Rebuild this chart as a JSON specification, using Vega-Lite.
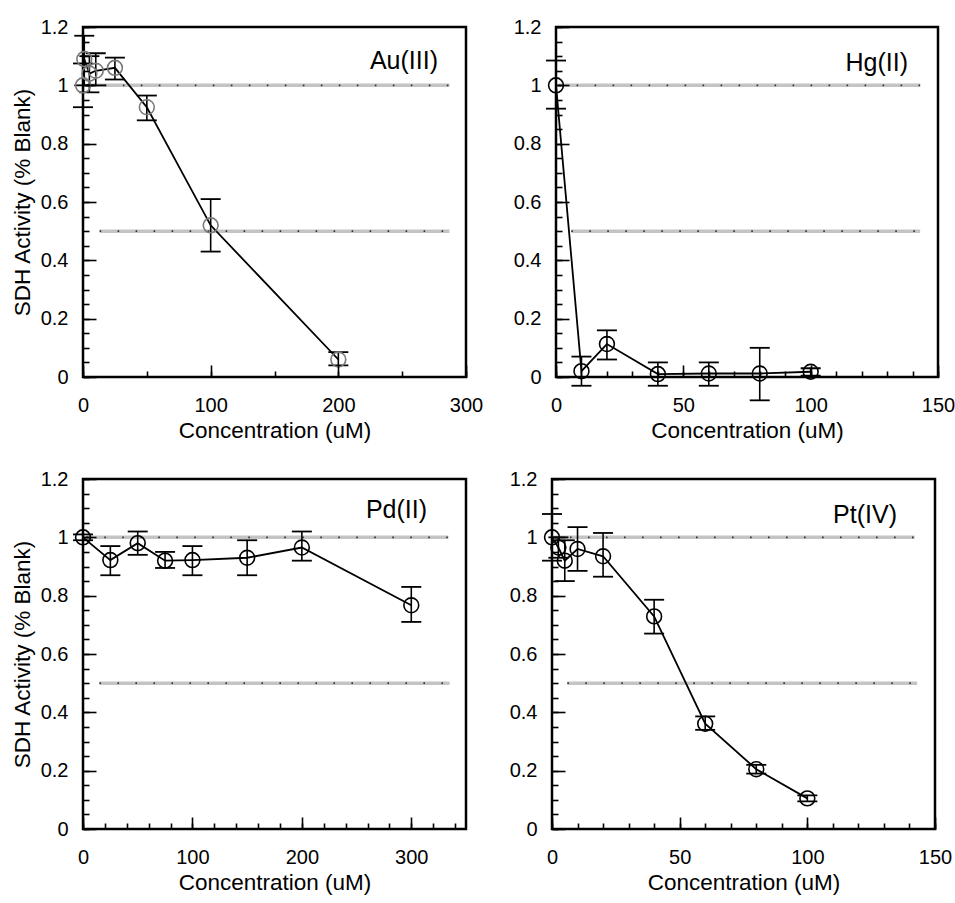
{
  "$schema": "https://vega.github.io/schema/vega-lite/v6.json",
  "padding": {"left": 9, "top": 15, "right": 0, "bottom": 2},
  "background": "white",
  "datasets": {
    "pts": [
      {"metal": "Au(III)", "conc": 0, "act": 1.0, "lo": 0.925, "hi": 1.075},
      {"metal": "Au(III)", "conc": 1, "act": 1.09, "lo": 1.0, "hi": 1.17},
      {"metal": "Au(III)", "conc": 5, "act": 1.04, "lo": 0.976, "hi": 1.1},
      {"metal": "Au(III)", "conc": 10, "act": 1.05, "lo": 1.0, "hi": 1.11},
      {"metal": "Au(III)", "conc": 25, "act": 1.06, "lo": 1.02, "hi": 1.095},
      {"metal": "Au(III)", "conc": 50, "act": 0.925, "lo": 0.88, "hi": 0.965},
      {"metal": "Au(III)", "conc": 100, "act": 0.52, "lo": 0.43, "hi": 0.61},
      {"metal": "Au(III)", "conc": 200, "act": 0.06, "lo": 0.04, "hi": 0.085},
      {"metal": "Hg(II)", "conc": 0, "act": 1.0, "lo": 0.92, "hi": 1.085},
      {"metal": "Hg(II)", "conc": 10, "act": 0.02, "lo": -0.03, "hi": 0.07},
      {"metal": "Hg(II)", "conc": 20, "act": 0.113, "lo": 0.06, "hi": 0.16},
      {"metal": "Hg(II)", "conc": 40, "act": 0.01, "lo": -0.03, "hi": 0.05},
      {"metal": "Hg(II)", "conc": 60, "act": 0.012, "lo": -0.03, "hi": 0.05},
      {"metal": "Hg(II)", "conc": 80, "act": 0.012, "lo": -0.08, "hi": 0.1},
      {"metal": "Hg(II)", "conc": 100, "act": 0.018, "lo": 0.005, "hi": 0.03},
      {"metal": "Pd(II)", "conc": 0, "act": 1.0, "lo": 0.99, "hi": 1.01},
      {"metal": "Pd(II)", "conc": 25, "act": 0.922, "lo": 0.87, "hi": 0.97},
      {"metal": "Pd(II)", "conc": 50, "act": 0.98, "lo": 0.94, "hi": 1.02},
      {"metal": "Pd(II)", "conc": 75, "act": 0.92, "lo": 0.895, "hi": 0.95},
      {"metal": "Pd(II)", "conc": 100, "act": 0.922, "lo": 0.87, "hi": 0.97},
      {"metal": "Pd(II)", "conc": 150, "act": 0.93, "lo": 0.87, "hi": 0.99},
      {"metal": "Pd(II)", "conc": 200, "act": 0.965, "lo": 0.92, "hi": 1.02},
      {"metal": "Pd(II)", "conc": 300, "act": 0.767, "lo": 0.71, "hi": 0.83},
      {"metal": "Pt(IV)", "conc": 0, "act": 1.0, "lo": 0.92, "hi": 1.08},
      {"metal": "Pt(IV)", "conc": 2.5, "act": 0.965, "lo": 0.93, "hi": 1.0},
      {"metal": "Pt(IV)", "conc": 5, "act": 0.92, "lo": 0.85, "hi": 0.99},
      {"metal": "Pt(IV)", "conc": 10, "act": 0.96, "lo": 0.885, "hi": 1.035},
      {"metal": "Pt(IV)", "conc": 20, "act": 0.935, "lo": 0.865, "hi": 1.015},
      {"metal": "Pt(IV)", "conc": 40, "act": 0.729, "lo": 0.67, "hi": 0.786},
      {"metal": "Pt(IV)", "conc": 60, "act": 0.361, "lo": 0.34, "hi": 0.386},
      {"metal": "Pt(IV)", "conc": 80, "act": 0.205, "lo": 0.19, "hi": 0.22},
      {"metal": "Pt(IV)", "conc": 100, "act": 0.105, "lo": 0.095, "hi": 0.115}
    ],
    "refs": [
      {"metal": "Au(III)", "level": 1.0, "from": 3, "to": 287},
      {"metal": "Au(III)", "level": 0.5, "from": 13, "to": 287},
      {"metal": "Hg(II)", "level": 1.0, "from": 1, "to": 143},
      {"metal": "Hg(II)", "level": 0.5, "from": 6, "to": 143},
      {"metal": "Pd(II)", "level": 1.0, "from": 3, "to": 334},
      {"metal": "Pd(II)", "level": 0.5, "from": 15, "to": 335},
      {"metal": "Pt(IV)", "level": 1.0, "from": 0, "to": 142},
      {"metal": "Pt(IV)", "level": 0.5, "from": 6, "to": 143}
    ]
  },
  "vconcat": [
    {
      "hconcat": [
        {
          "width": 383, "height": 350,
          "title": {"text": "Au(III)", "anchor": "end", "frame": "group", "offset": -41, "dy": 36, "dx": -28, "baseline": "alphabetic", "fontSize": 25, "fontWeight": "normal", "font": "Liberation Sans", "color": "black"},
          "resolve": {"axis": {"x": "independent", "y": "independent"}},
          "layer": [
            {"data": {"name": "refs"}, "transform": [{"filter": "datum.metal === 'Au(III)'"}],
             "mark": {"type": "rule", "color": "#c4c4c4", "strokeWidth": 3.5},
             "encoding": {
               "x": {"field": "from", "type": "quantitative", "scale": {"domain": [0, 300], "nice": false},
                     "axis": {"orient": "bottom", "zindex": 2, "title": "Concentration (uM)", "values": [0, 100, 200, 300], "format": "d", "ticks": true, "offset": -12, "tickSize": 12, "labelPadding": 18, "titlePadding": 4}},
               "x2": {"field": "to"},
               "y": {"field": "level", "type": "quantitative", "scale": {"domain": [0, 1.2], "nice": false},
                     "axis": {"orient": "left", "zindex": 2, "title": "SDH Activity (% Blank)", "values": [0, 0.2, 0.4, 0.6, 0.8, 1, 1.2], "format": "~g", "ticks": true, "offset": -13, "tickSize": 13, "labelPadding": 15, "titlePadding": 6}}
             }},
            {"data": {"name": "refs"}, "transform": [{"filter": "datum.metal === 'Au(III)'"}],
             "mark": {"type": "rule", "color": "#333333", "strokeWidth": 1.6, "strokeDash": [1.6, 16.4]},
             "encoding": {
               "x": {"field": "from", "type": "quantitative", "scale": {"domain": [0, 300], "nice": false},
                     "axis": {"orient": "bottom", "zindex": 2, "title": null, "values": [0, 50, 100, 150, 200, 250, 300], "ticks": true, "offset": -6, "tickSize": 6, "labels": false}},
               "x2": {"field": "to"},
               "y": {"field": "level", "type": "quantitative", "scale": {"domain": [0, 1.2], "nice": false},
                     "axis": {"orient": "left", "zindex": 2, "title": null, "values": [0, 0.05, 0.1, 0.15, 0.2, 0.25, 0.3, 0.35, 0.4, 0.45, 0.5, 0.55, 0.6, 0.65, 0.7, 0.75, 0.8, 0.85, 0.9, 0.95, 1, 1.05, 1.1, 1.15, 1.2], "ticks": true, "offset": -6, "tickSize": 6, "labels": false}}
             }},
            {"data": {"name": "pts"}, "transform": [{"filter": "datum.metal === 'Au(III)'"}],
             "mark": {"type": "line", "color": "black", "strokeWidth": 1.8},
             "encoding": {
               "x": {"field": "conc", "type": "quantitative", "scale": {"domain": [0, 300], "nice": false}, "axis": null},
               "y": {"field": "act", "type": "quantitative", "scale": {"domain": [0, 1.2], "nice": false}, "axis": null}
             }},
            {"data": {"name": "pts"}, "transform": [{"filter": "datum.metal === 'Au(III)'"}],
             "mark": {"type": "rule", "color": "black", "strokeWidth": 1.6},
             "encoding": {
               "x": {"field": "conc", "type": "quantitative", "scale": {"domain": [0, 300], "nice": false}, "axis": null},
               "y": {"field": "lo", "type": "quantitative", "scale": {"domain": [0, 1.2], "nice": false}, "axis": null},
               "y2": {"field": "hi"}
             }},
            {"data": {"name": "pts"}, "transform": [{"filter": "datum.metal === 'Au(III)'"}],
             "mark": {"type": "tick", "orient": "horizontal", "size": 20, "thickness": 1.8, "color": "black", "opacity": 1},
             "encoding": {
               "x": {"field": "conc", "type": "quantitative", "scale": {"domain": [0, 300], "nice": false}, "axis": null},
               "y": {"field": "lo", "type": "quantitative", "scale": {"domain": [0, 1.2], "nice": false}, "axis": null}
             }},
            {"data": {"name": "pts"}, "transform": [{"filter": "datum.metal === 'Au(III)'"}],
             "mark": {"type": "tick", "orient": "horizontal", "size": 20, "thickness": 1.8, "color": "black", "opacity": 1},
             "encoding": {
               "x": {"field": "conc", "type": "quantitative", "scale": {"domain": [0, 300], "nice": false}, "axis": null},
               "y": {"field": "hi", "type": "quantitative", "scale": {"domain": [0, 1.2], "nice": false}, "axis": null}
             }},
            {"data": {"name": "pts"}, "transform": [{"filter": "datum.metal === 'Au(III)'"}],
             "mark": {"type": "point", "shape": "circle", "filled": false, "size": 220, "strokeWidth": 1.6, "color": "#7a7a7a", "opacity": 1},
             "encoding": {
               "x": {"field": "conc", "type": "quantitative", "scale": {"domain": [0, 300], "nice": false}, "axis": null},
               "y": {"field": "act", "type": "quantitative", "scale": {"domain": [0, 1.2], "nice": false}, "axis": null}
             }}
          ]
        },
        {
          "width": 382, "height": 350,
          "title": {"text": "Hg(II)", "anchor": "end", "frame": "group", "offset": -43, "dy": 36, "dx": -30, "baseline": "alphabetic", "fontSize": 25, "fontWeight": "normal", "font": "Liberation Sans", "color": "black"},
          "resolve": {"axis": {"x": "independent", "y": "independent"}},
          "layer": [
            {"data": {"name": "refs"}, "transform": [{"filter": "datum.metal === 'Hg(II)'"}],
             "mark": {"type": "rule", "color": "#c4c4c4", "strokeWidth": 3.5},
             "encoding": {
               "x": {"field": "from", "type": "quantitative", "scale": {"domain": [0, 150], "nice": false},
                     "axis": {"orient": "bottom", "zindex": 2, "title": "Concentration (uM)", "values": [0, 50, 100, 150], "format": "d", "ticks": true, "offset": -12, "tickSize": 12, "labelPadding": 18, "titlePadding": 4}},
               "x2": {"field": "to"},
               "y": {"field": "level", "type": "quantitative", "scale": {"domain": [0, 1.2], "nice": false},
                     "axis": {"orient": "left", "zindex": 2, "title": null, "values": [0, 0.2, 0.4, 0.6, 0.8, 1, 1.2], "format": "~g", "ticks": true, "offset": -13, "tickSize": 13, "labelPadding": 15}}
             }},
            {"data": {"name": "refs"}, "transform": [{"filter": "datum.metal === 'Hg(II)'"}],
             "mark": {"type": "rule", "color": "#333333", "strokeWidth": 1.6, "strokeDash": [1.6, 16.4]},
             "encoding": {
               "x": {"field": "from", "type": "quantitative", "scale": {"domain": [0, 150], "nice": false},
                     "axis": {"orient": "bottom", "zindex": 2, "title": null, "values": [0, 10, 20, 30, 40, 50, 60, 70, 80, 90, 100, 110, 120, 130, 140, 150], "ticks": true, "offset": -6, "tickSize": 6, "labels": false}},
               "x2": {"field": "to"},
               "y": {"field": "level", "type": "quantitative", "scale": {"domain": [0, 1.2], "nice": false},
                     "axis": {"orient": "left", "zindex": 2, "title": null, "values": [0, 0.05, 0.1, 0.15, 0.2, 0.25, 0.3, 0.35, 0.4, 0.45, 0.5, 0.55, 0.6, 0.65, 0.7, 0.75, 0.8, 0.85, 0.9, 0.95, 1, 1.05, 1.1, 1.15, 1.2], "ticks": true, "offset": -6, "tickSize": 6, "labels": false}}
             }},
            {"data": {"name": "pts"}, "transform": [{"filter": "datum.metal === 'Hg(II)'"}],
             "mark": {"type": "line", "color": "black", "strokeWidth": 1.8},
             "encoding": {
               "x": {"field": "conc", "type": "quantitative", "scale": {"domain": [0, 150], "nice": false}, "axis": null},
               "y": {"field": "act", "type": "quantitative", "scale": {"domain": [0, 1.2], "nice": false}, "axis": null}
             }},
            {"data": {"name": "pts"}, "transform": [{"filter": "datum.metal === 'Hg(II)'"}],
             "mark": {"type": "rule", "color": "black", "strokeWidth": 1.6},
             "encoding": {
               "x": {"field": "conc", "type": "quantitative", "scale": {"domain": [0, 150], "nice": false}, "axis": null},
               "y": {"field": "lo", "type": "quantitative", "scale": {"domain": [0, 1.2], "nice": false}, "axis": null},
               "y2": {"field": "hi"}
             }},
            {"data": {"name": "pts"}, "transform": [{"filter": "datum.metal === 'Hg(II)'"}],
             "mark": {"type": "tick", "orient": "horizontal", "size": 20, "thickness": 1.8, "color": "black", "opacity": 1},
             "encoding": {
               "x": {"field": "conc", "type": "quantitative", "scale": {"domain": [0, 150], "nice": false}, "axis": null},
               "y": {"field": "lo", "type": "quantitative", "scale": {"domain": [0, 1.2], "nice": false}, "axis": null}
             }},
            {"data": {"name": "pts"}, "transform": [{"filter": "datum.metal === 'Hg(II)'"}],
             "mark": {"type": "tick", "orient": "horizontal", "size": 20, "thickness": 1.8, "color": "black", "opacity": 1},
             "encoding": {
               "x": {"field": "conc", "type": "quantitative", "scale": {"domain": [0, 150], "nice": false}, "axis": null},
               "y": {"field": "hi", "type": "quantitative", "scale": {"domain": [0, 1.2], "nice": false}, "axis": null}
             }},
            {"data": {"name": "pts"}, "transform": [{"filter": "datum.metal === 'Hg(II)'"}],
             "mark": {"type": "point", "shape": "circle", "filled": false, "size": 220, "strokeWidth": 1.6, "color": "black", "opacity": 1},
             "encoding": {
               "x": {"field": "conc", "type": "quantitative", "scale": {"domain": [0, 150], "nice": false}, "axis": null},
               "y": {"field": "act", "type": "quantitative", "scale": {"domain": [0, 1.2], "nice": false}, "axis": null}
             }}
          ]
        }
      ],
      "spacing": 27
    },
    {
      "hconcat": [
        {
          "width": 383, "height": 350,
          "title": {"text": "Pd(II)", "anchor": "end", "frame": "group", "offset": -38, "dy": 36, "dx": -39, "baseline": "alphabetic", "fontSize": 25, "fontWeight": "normal", "font": "Liberation Sans", "color": "black"},
          "resolve": {"axis": {"x": "independent", "y": "independent"}},
          "layer": [
            {"data": {"name": "refs"}, "transform": [{"filter": "datum.metal === 'Pd(II)'"}],
             "mark": {"type": "rule", "color": "#c4c4c4", "strokeWidth": 3.5},
             "encoding": {
               "x": {"field": "from", "type": "quantitative", "scale": {"domain": [0, 350], "nice": false},
                     "axis": {"orient": "bottom", "zindex": 2, "title": "Concentration (uM)", "values": [0, 100, 200, 300], "format": "d", "ticks": true, "offset": -12, "tickSize": 12, "labelPadding": 18, "titlePadding": 4}},
               "x2": {"field": "to"},
               "y": {"field": "level", "type": "quantitative", "scale": {"domain": [0, 1.2], "nice": false},
                     "axis": {"orient": "left", "zindex": 2, "title": "SDH Activity (% Blank)", "values": [0, 0.2, 0.4, 0.6, 0.8, 1, 1.2], "format": "~g", "ticks": true, "offset": -13, "tickSize": 13, "labelPadding": 15, "titlePadding": 6}}
             }},
            {"data": {"name": "refs"}, "transform": [{"filter": "datum.metal === 'Pd(II)'"}],
             "mark": {"type": "rule", "color": "#333333", "strokeWidth": 1.6, "strokeDash": [1.6, 16.4]},
             "encoding": {
               "x": {"field": "from", "type": "quantitative", "scale": {"domain": [0, 350], "nice": false},
                     "axis": {"orient": "bottom", "zindex": 2, "title": null, "values": [0, 20, 40, 60, 80, 100, 120, 140, 160, 180, 200, 220, 240, 260, 280, 300, 320, 340], "ticks": true, "offset": -6, "tickSize": 6, "labels": false}},
               "x2": {"field": "to"},
               "y": {"field": "level", "type": "quantitative", "scale": {"domain": [0, 1.2], "nice": false},
                     "axis": {"orient": "left", "zindex": 2, "title": null, "values": [0, 0.05, 0.1, 0.15, 0.2, 0.25, 0.3, 0.35, 0.4, 0.45, 0.5, 0.55, 0.6, 0.65, 0.7, 0.75, 0.8, 0.85, 0.9, 0.95, 1, 1.05, 1.1, 1.15, 1.2], "ticks": true, "offset": -6, "tickSize": 6, "labels": false}}
             }},
            {"data": {"name": "pts"}, "transform": [{"filter": "datum.metal === 'Pd(II)'"}],
             "mark": {"type": "line", "color": "black", "strokeWidth": 1.8},
             "encoding": {
               "x": {"field": "conc", "type": "quantitative", "scale": {"domain": [0, 350], "nice": false}, "axis": null},
               "y": {"field": "act", "type": "quantitative", "scale": {"domain": [0, 1.2], "nice": false}, "axis": null}
             }},
            {"data": {"name": "pts"}, "transform": [{"filter": "datum.metal === 'Pd(II)'"}],
             "mark": {"type": "rule", "color": "black", "strokeWidth": 1.6},
             "encoding": {
               "x": {"field": "conc", "type": "quantitative", "scale": {"domain": [0, 350], "nice": false}, "axis": null},
               "y": {"field": "lo", "type": "quantitative", "scale": {"domain": [0, 1.2], "nice": false}, "axis": null},
               "y2": {"field": "hi"}
             }},
            {"data": {"name": "pts"}, "transform": [{"filter": "datum.metal === 'Pd(II)'"}],
             "mark": {"type": "tick", "orient": "horizontal", "size": 20, "thickness": 1.8, "color": "black", "opacity": 1},
             "encoding": {
               "x": {"field": "conc", "type": "quantitative", "scale": {"domain": [0, 350], "nice": false}, "axis": null},
               "y": {"field": "lo", "type": "quantitative", "scale": {"domain": [0, 1.2], "nice": false}, "axis": null}
             }},
            {"data": {"name": "pts"}, "transform": [{"filter": "datum.metal === 'Pd(II)'"}],
             "mark": {"type": "tick", "orient": "horizontal", "size": 20, "thickness": 1.8, "color": "black", "opacity": 1},
             "encoding": {
               "x": {"field": "conc", "type": "quantitative", "scale": {"domain": [0, 350], "nice": false}, "axis": null},
               "y": {"field": "hi", "type": "quantitative", "scale": {"domain": [0, 1.2], "nice": false}, "axis": null}
             }},
            {"data": {"name": "pts"}, "transform": [{"filter": "datum.metal === 'Pd(II)'"}],
             "mark": {"type": "point", "shape": "circle", "filled": false, "size": 220, "strokeWidth": 1.6, "color": "black", "opacity": 1},
             "encoding": {
               "x": {"field": "conc", "type": "quantitative", "scale": {"domain": [0, 350], "nice": false}, "axis": null},
               "y": {"field": "act", "type": "quantitative", "scale": {"domain": [0, 1.2], "nice": false}, "axis": null}
             }}
          ]
        },
        {
          "width": 383, "height": 350,
          "title": {"text": "Pt(IV)", "anchor": "end", "frame": "group", "offset": -43, "dy": 36, "dx": -38, "baseline": "alphabetic", "fontSize": 25, "fontWeight": "normal", "font": "Liberation Sans", "color": "black"},
          "resolve": {"axis": {"x": "independent", "y": "independent"}},
          "layer": [
            {"data": {"name": "refs"}, "transform": [{"filter": "datum.metal === 'Pt(IV)'"}],
             "mark": {"type": "rule", "color": "#c4c4c4", "strokeWidth": 3.5},
             "encoding": {
               "x": {"field": "from", "type": "quantitative", "scale": {"domain": [0, 150], "nice": false},
                     "axis": {"orient": "bottom", "zindex": 2, "title": "Concentration (uM)", "values": [0, 50, 100, 150], "format": "d", "ticks": true, "offset": -12, "tickSize": 12, "labelPadding": 18, "titlePadding": 4}},
               "x2": {"field": "to"},
               "y": {"field": "level", "type": "quantitative", "scale": {"domain": [0, 1.2], "nice": false},
                     "axis": {"orient": "left", "zindex": 2, "title": null, "values": [0, 0.2, 0.4, 0.6, 0.8, 1, 1.2], "format": "~g", "ticks": true, "offset": -13, "tickSize": 13, "labelPadding": 15}}
             }},
            {"data": {"name": "refs"}, "transform": [{"filter": "datum.metal === 'Pt(IV)'"}],
             "mark": {"type": "rule", "color": "#333333", "strokeWidth": 1.6, "strokeDash": [1.6, 16.4]},
             "encoding": {
               "x": {"field": "from", "type": "quantitative", "scale": {"domain": [0, 150], "nice": false},
                     "axis": {"orient": "bottom", "zindex": 2, "title": null, "values": [0, 10, 20, 30, 40, 50, 60, 70, 80, 90, 100, 110, 120, 130, 140, 150], "ticks": true, "offset": -6, "tickSize": 6, "labels": false}},
               "x2": {"field": "to"},
               "y": {"field": "level", "type": "quantitative", "scale": {"domain": [0, 1.2], "nice": false},
                     "axis": {"orient": "left", "zindex": 2, "title": null, "values": [0, 0.05, 0.1, 0.15, 0.2, 0.25, 0.3, 0.35, 0.4, 0.45, 0.5, 0.55, 0.6, 0.65, 0.7, 0.75, 0.8, 0.85, 0.9, 0.95, 1, 1.05, 1.1, 1.15, 1.2], "ticks": true, "offset": -6, "tickSize": 6, "labels": false}}
             }},
            {"data": {"name": "pts"}, "transform": [{"filter": "datum.metal === 'Pt(IV)'"}],
             "mark": {"type": "line", "color": "black", "strokeWidth": 1.8},
             "encoding": {
               "x": {"field": "conc", "type": "quantitative", "scale": {"domain": [0, 150], "nice": false}, "axis": null},
               "y": {"field": "act", "type": "quantitative", "scale": {"domain": [0, 1.2], "nice": false}, "axis": null}
             }},
            {"data": {"name": "pts"}, "transform": [{"filter": "datum.metal === 'Pt(IV)'"}],
             "mark": {"type": "rule", "color": "black", "strokeWidth": 1.6},
             "encoding": {
               "x": {"field": "conc", "type": "quantitative", "scale": {"domain": [0, 150], "nice": false}, "axis": null},
               "y": {"field": "lo", "type": "quantitative", "scale": {"domain": [0, 1.2], "nice": false}, "axis": null},
               "y2": {"field": "hi"}
             }},
            {"data": {"name": "pts"}, "transform": [{"filter": "datum.metal === 'Pt(IV)'"}],
             "mark": {"type": "tick", "orient": "horizontal", "size": 20, "thickness": 1.8, "color": "black", "opacity": 1},
             "encoding": {
               "x": {"field": "conc", "type": "quantitative", "scale": {"domain": [0, 150], "nice": false}, "axis": null},
               "y": {"field": "lo", "type": "quantitative", "scale": {"domain": [0, 1.2], "nice": false}, "axis": null}
             }},
            {"data": {"name": "pts"}, "transform": [{"filter": "datum.metal === 'Pt(IV)'"}],
             "mark": {"type": "tick", "orient": "horizontal", "size": 20, "thickness": 1.8, "color": "black", "opacity": 1},
             "encoding": {
               "x": {"field": "conc", "type": "quantitative", "scale": {"domain": [0, 150], "nice": false}, "axis": null},
               "y": {"field": "hi", "type": "quantitative", "scale": {"domain": [0, 1.2], "nice": false}, "axis": null}
             }},
            {"data": {"name": "pts"}, "transform": [{"filter": "datum.metal === 'Pt(IV)'"}],
             "mark": {"type": "point", "shape": "circle", "filled": false, "size": 220, "strokeWidth": 1.6, "color": "black", "opacity": 1},
             "encoding": {
               "x": {"field": "conc", "type": "quantitative", "scale": {"domain": [0, 150], "nice": false}, "axis": null},
               "y": {"field": "act", "type": "quantitative", "scale": {"domain": [0, 1.2], "nice": false}, "axis": null}
             }}
          ]
        }
      ],
      "spacing": 39
    }
  ],
  "spacing": 24,
  "config": {
    "font": "Liberation Sans",
    "view": {"stroke": "black", "strokeWidth": 2.5, "fill": "transparent"},
    "axis": {
      "domain": false, "grid": false,
      "tickColor": "#000000", "tickWidth": 1.6, "tickOpacity": 1,
      "labelFont": "Liberation Sans", "labelFontSize": 20, "labelColor": "black",
      "labelFlush": false, "labelOverlap": false,
      "titleFont": "Liberation Sans", "titleFontSize": 22.5, "titleFontWeight": "normal", "titleColor": "black"
    }
  }
}
